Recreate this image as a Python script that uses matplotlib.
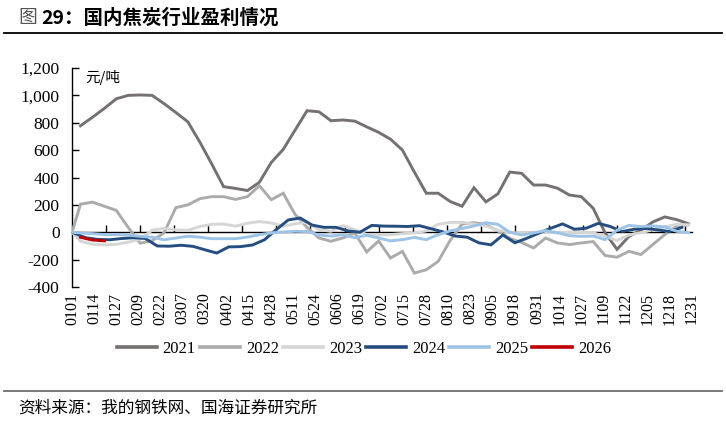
import matplotlib
matplotlib.use('Agg')
import matplotlib.pyplot as plt
from matplotlib.lines import Line2D
from matplotlib.ticker import FuncFormatter

# ---------------- data ----------------
xtick_labels = ['0101', '0114', '0127', '0209', '0222', '0307', '0320', '0402', '0415',
                '0428', '0511', '0524', '0606', '0619', '0702', '0715', '0728', '0810',
                '0823', '0905', '0918', '0931', '1014', '1027', '1109', '1122', '1205',
                '1218', '1231']
label_step_days = 13

# weekly observation days (day-of-year, 0 = Jan 1)
days_std = [5 + 7 * k for k in range(52)]
days_2024 = [8 + 7 * k for k in range(51)]

v2021 = [778, 840, 905, 975, 1000, 1003, 1000, 940, 875, 807,
         660, 500, 333, 320, 305, 365, 510, 605, 747, 888,
         880, 815, 820, 812, 770, 730, 680, 600, 440, 285,
         285, 225, 190, 325, 222, 280, 440, 430, 345, 345,
         322, 272, 260, 175, -5, -125, -30, 15, 75, 112,
         92, 62]
v2022 = [205, 220, 190, 160, 35, -80, -62, -5, 180, 200,
         245, 260, 260, 240, 260, 340, 238, 285, 130, 35,
         -42, -66, -42, -5, -144, -64, -188, -140, -298, -274,
         -213, -60, 60, 70, 55, 10, -45, -75, -115, -42,
         -78, -90, -78, -68, -170, -182, -139, -163, -90, -17,
         44, 55]
v2023 = [-65, -88, -92, -88, -72, -52, 15, 28, 18, 14,
         42, 58, 60, 44, 66, 78, 68, 44, 62, 72,
         19, 7, 49, 19, -17, -20, -17, -10, -5, 10,
         58, 72, 72, 60, 45, 15, 0, -8, -5, 0,
         -5, 2, 5, -5, -30, -60, -20, -3, 17, 40,
         58, 53]
v2024 = [-40, -52, -55, -46, -40, -45, -100, -102, -95, -103,
         -128, -152, -107, -105, -93, -55, 20, 90, 104, 52,
         36, 36, 10, 0, 50, 45, 44, 42, 48, 25,
         2, -28, -36, -78, -92, -20, -77, -44, -7, 29,
         61, 22, 30, 65, 42, 5, 22, 28, 17, 5,
         35]
v2025 = [-5, -10, -17, -17, -20, -30, -36, -55, -42, -29,
         -36, -47, -47, -47, -35, -18, -5, 2, 7, 5,
         -20, -28, -18, -40, -22, -42, -63, -54, -38, -54,
         -18, 10, 28, 46, 70, 58, 0, -20, -5, 12,
         -3, -25, -30, -28, -54, 15, 50, 42, 46, 40,
         7, -4]
v2026 = [-37, -57, -63]

# value on Jan 1 for series whose line starts from the axis
jan1_value = 0

# ---------------- style ----------------
SERIF = ['Liberation Serif', 'DejaVu Serif']
CJK = ['Noto Sans CJK SC', 'DejaVu Sans']

fig = plt.figure(figsize=(7.26, 4.28), dpi=100)
ax = fig.add_axes([72 / 726, 1 - 287 / 428, 620 / 726, 219 / 428])

series = [
    ('2021', days_std, v2021, '#767171', False),
    ('2022', days_std, v2022, '#ABABAB', True),
    ('2023', days_std, v2023, '#D6D6D6', True),
    ('2024', days_2024, v2024, '#264D80', True),
    ('2025', days_std, v2025, '#9DC3E6', True),
    ('2026', days_std[:len(v2026)], v2026, '#C00000', False),
]
for i, (name, xs, ys, col, from_axis) in enumerate(series):
    if from_axis:
        xs = [0] + list(xs)
        ys = [jan1_value] + list(ys)
    ax.plot(xs, ys, color=col, lw=2.1, label=name, zorder=3 + i,
            solid_joinstyle='miter')

ax.set_xlim(0, 364)
ax.set_ylim(-400, 1200)
ax.set_yticks(range(-400, 1201, 200))
ax.yaxis.set_major_formatter(FuncFormatter(lambda v, p: f'{int(v):,}'))

for s in ['top', 'right', 'bottom']:
    ax.spines[s].set_visible(False)
ax.spines['left'].set_linewidth(1.0)
ax.tick_params(axis='y', direction='in', length=5, width=1, labelsize=12.5, pad=9)
for t in ax.get_yticklabels():
    t.set_fontfamily(SERIF)

ax.set_xticks([i * label_step_days for i in range(len(xtick_labels))])
ax.set_xticklabels(xtick_labels, rotation=90, fontfamily=SERIF, fontsize=11.5)
ax.tick_params(axis='x', length=0, pad=4)

# zero axis with small upward ticks
sec = ax.secondary_xaxis(0.25)
sec.set_xticks(range(20, 361, 20))
sec.set_xticklabels([])
sec.tick_params(axis='x', direction='in', length=5, width=1)
sec.spines['bottom'].set_linewidth(1.0)

ax.text(0.022, 0.955, '元/吨', transform=ax.transAxes, fontfamily=CJK,
        fontsize=10.5, va='center', ha='left')

# title
fig.text(18 / 726, 1 - 18 / 428, '图', fontfamily=CJK, fontsize=13.5,
         color='#555555', va='center', ha='left')
fig.text(41 / 726, 1 - 18 / 428, '29：国内焦炭行业盈利情况', fontfamily=CJK,
         fontsize=14, fontweight='bold', color='black', va='center', ha='left')
fig.add_artist(Line2D([4 / 726, 722 / 726], [1 - 33 / 428] * 2, color='black', lw=1.3))

# legend
handles, labels = ax.get_legend_handles_labels()
leg = fig.legend(handles, labels, loc='center', bbox_to_anchor=(364 / 726, 1 - 349 / 428),
                 ncol=6, frameon=False, handlelength=2.4, handletextpad=0.35,
                 columnspacing=0.25, prop={'family': SERIF, 'size': 12})
for h in leg.legend_handles:
    h.set_linewidth(2.6)

# source
fig.add_artist(Line2D([4 / 726, 722 / 726], [1 - 391 / 428] * 2, color='#707070', lw=1.3))
fig.text(18 / 726, 1 - 408 / 428, '资料来源：我的钢铁网、国海证券研究所', fontfamily=CJK,
         fontsize=12, va='center', ha='left')

fig.savefig('out.png', dpi=100)
